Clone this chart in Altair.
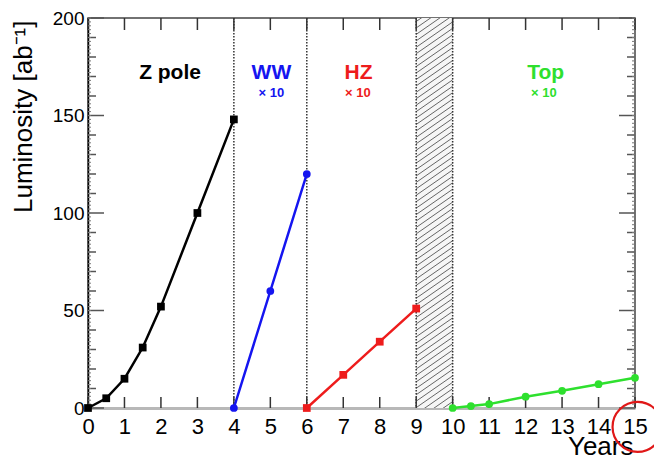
import altair as alt
import pandas as pd
import numpy as np

# ---- data ----
z_years = [0, 0.5, 1, 1.5, 2, 3, 4]
z_lumi = [0, 5, 15, 31, 52, 100, 148]
ww_years = [4, 5, 6]
ww_lumi = [0, 60, 120]
hz_years = [6, 7, 8, 9]
hz_lumi = [0, 17, 34, 51]
top_years = [10, 10.5, 11, 12, 13, 14, 15]
top_lumi = [0, 1, 2, 5.8, 8.8, 12.2, 15.5]

series_names = ["Z pole", "WW", "HZ", "Top"]
series_colors = ["#000000", "#1515f0", "#ee1c1c", "#2ee02e"]
series_shapes = ["square", "circle", "square", "circle"]

x_tick_values = list(range(0, 16))
y_major_values = [0, 50, 100, 150, 200]
y_minor_values = [v for v in range(0, 201, 10) if v % 50 != 0]
y_tiny_values = list(range(0, 201, 2))

boundaries = [4, 6, 9, 10]
shutdown_start = [9]
shutdown_end = [10]

label_text = ["Z pole", "WW", "HZ", "Top"]
label_x = [2.25, 5.03, 7.42, 12.55]
label_y = [172, 172, 172, 172]
factor_text = ["× 10", "× 10", "× 10"]
factor_x = [5.03, 7.4, 12.5]
factor_y = [161.5, 161.5, 161.5]
factor_series = ["WW", "HZ", "Top"]

circle_x = [15.07]
circle_y = [-9.7]

W, H = 547, 390
FONT = "Liberation Sans"

rows = []
for name, xs, ys in [("Z pole", z_years, z_lumi), ("WW", ww_years, ww_lumi),
                     ("HZ", hz_years, hz_lumi), ("Top", top_years, top_lumi)]:
    for a, b in zip(xs, ys):
        rows.append({"series": name, "year": a, "lumi": b})
df = pd.DataFrame(rows)

xscale = alt.Scale(domain=[0, 15], nice=False, zero=False)
yscale = alt.Scale(domain=[0, 200], nice=False)
cscale = alt.Scale(domain=series_names, range=series_colors)
sscale = alt.Scale(domain=series_names, range=series_shapes)

xaxis = alt.Axis(values=x_tick_values, ticks=False, tickSize=0, grid=False,
                 labelFontSize=22, labelFont=FONT, labelColor="black", labelPadding=8,
                 labelOverlap=False, labelFlush=False, labelBound=False,
                 domainColor="#b8b8b8", domainWidth=3,
                 title="Years", titleFont=FONT, titleFontSize=26, titleFontWeight="normal",
                 titleColor="black", titleAnchor="end", titleAlign="right",
                 titleBaseline="alphabetic", titleX=W - 2, titleY=46)
yaxis = alt.Axis(values=y_major_values, ticks=False, tickSize=0, grid=False,
                 labelFontSize=19, labelFont=FONT, labelColor="black", labelPadding=4,
                 labelOverlap=False,
                 domainColor="black", domainWidth=1.5,
                 title="Luminosity [ab⁻¹]", titleFont=FONT, titleFontSize=26,
                 titleFontWeight="normal", titleColor="black", titleAngle=270,
                 titleAlign="right", titleBaseline="middle", titleX=-65, titleY=2)


def X(field):
    return alt.X(field, scale=xscale, axis=xaxis)


def Y(field):
    return alt.Y(field, scale=yscale, axis=yaxis)


# hatched shutdown band
band = alt.Chart(pd.DataFrame({"x0": shutdown_start, "x1": shutdown_end})).mark_rect(
    color="#f6f6f6").encode(
    x=X("x0:Q"), x2="x1:Q", y=alt.value(0), y2=alt.value(H))

hatch_starts = np.arange(-13, 200, 3.3)
hatch = alt.Chart(pd.DataFrame({"x0": shutdown_start * len(hatch_starts),
                                "x1": shutdown_end * len(hatch_starts),
                                "y0": hatch_starts, "y1": hatch_starts + 13})).mark_rule(
    color="#666666", strokeWidth=1, clip=True).encode(
    x=X("x0:Q"), x2="x1:Q", y=Y("y0:Q"), y2="y1:Q")

vlines = alt.Chart(pd.DataFrame({"b": boundaries})).mark_rule(
    color="#333333", strokeWidth=1.5, strokeDash=[1.5, 1.5]).encode(
    x=X("b:Q"), y=alt.value(0), y2=alt.value(H))

# ticks (inside the frame)
xt = pd.DataFrame({"t": x_tick_values})
bottom_ticks = alt.Chart(xt).mark_rule(color="#333333", strokeWidth=1.5).encode(
    x=X("t:Q"), y=alt.value(H), y2=alt.value(H - 11))
top_ticks = alt.Chart(xt).mark_rule(color="#333333", strokeWidth=1.5).encode(
    x=X("t:Q"), y=alt.value(0), y2=alt.value(12))


def yticks(vals, length, width, color):
    d = pd.DataFrame({"t": vals})
    left = alt.Chart(d).mark_rule(color=color, strokeWidth=width).encode(
        y=Y("t:Q"), x=alt.value(0), x2=alt.value(length))
    right = alt.Chart(d).mark_rule(color=color, strokeWidth=width).encode(
        y=Y("t:Q"), x=alt.value(W), x2=alt.value(W - length))
    return [left, right]


yt = (yticks(y_major_values, 16, 1.5, "#555555") + yticks(y_minor_values, 8, 1.5, "#555555")
      + yticks(y_tiny_values, 3, 1, "#777777"))

lines = alt.Chart(df).mark_line(strokeWidth=2.5).encode(
    x=X("year:Q"), y=Y("lumi:Q"),
    color=alt.Color("series:N", scale=cscale, legend=None), detail="series:N")
points = alt.Chart(df).mark_point(filled=True, size=60, opacity=1).encode(
    x=X("year:Q"), y=Y("lumi:Q"),
    color=alt.Color("series:N", scale=cscale, legend=None),
    shape=alt.Shape("series:N", scale=sscale, legend=None))

labels = alt.Chart(pd.DataFrame({"t": label_text, "x": label_x, "y": label_y,
                                 "series": series_names})).mark_text(
    font=FONT, fontSize=21, fontWeight="bold", baseline="middle", align="center").encode(
    x=X("x:Q"), y=Y("y:Q"), text="t:N",
    color=alt.Color("series:N", scale=cscale, legend=None))

factors = alt.Chart(pd.DataFrame({"t": factor_text, "x": factor_x, "y": factor_y,
                                  "series": factor_series})).mark_text(
    font=FONT, fontSize=13, fontWeight="bold", baseline="middle", align="center").encode(
    x=X("x:Q"), y=Y("y:Q"), text="t:N",
    color=alt.Color("series:N", scale=cscale, legend=None))

circle = alt.Chart(pd.DataFrame({"x": circle_x, "y": circle_y})).mark_point(
    shape="circle", size=2500, filled=False, color="#e01818", strokeWidth=2.2,
    clip=False, opacity=1).encode(
    x=X("x:Q"), y=Y("y:Q"))

chart = alt.layer(band, hatch, vlines, bottom_ticks, top_ticks, *yt, lines, points,
                  labels, factors, circle).properties(
    width=W, height=H,
    autosize=alt.AutoSizeParams(type="none"),
    padding={"left": 88, "top": 18, "right": 19, "bottom": 51},
    background="white",
).configure_view(stroke="#444444", strokeWidth=1.5)

chart.save("out.html", embed_options={"renderer": "svg", "actions": False})
